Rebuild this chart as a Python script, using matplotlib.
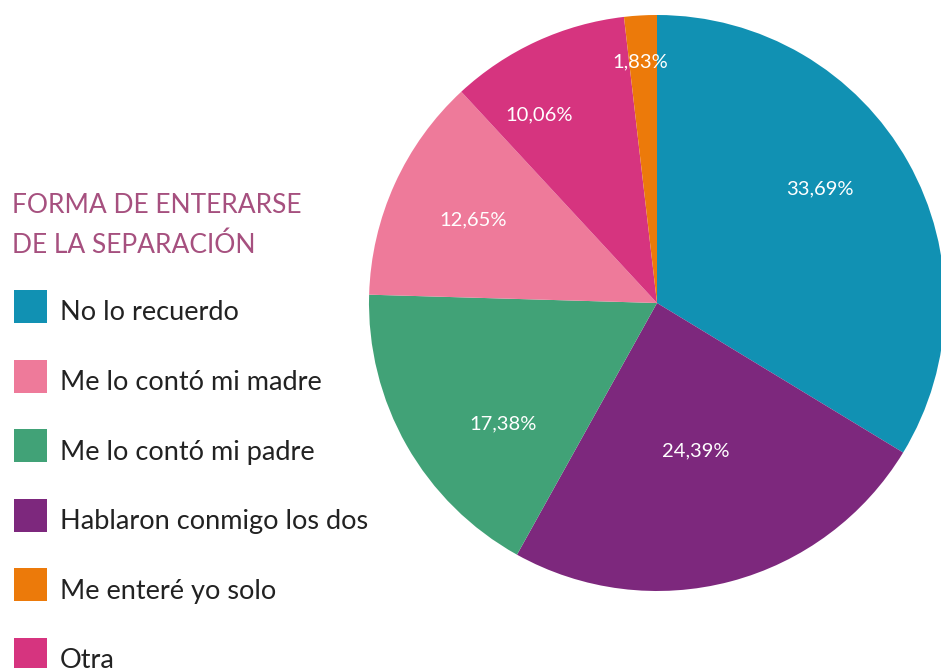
import matplotlib
matplotlib.use("Agg")
import matplotlib.pyplot as plt
from matplotlib.patches import Rectangle
import numpy as np

# ---- data ----
slice_labels = ["No lo recuerdo", "Hablaron conmigo los dos", "Me lo contó mi padre",
                "Me lo contó mi madre", "Otra", "Me enteré yo solo"]
slice_values = [33.69, 24.39, 17.38, 12.65, 10.06, 1.83]
slice_colors = ["#1191B3", "#7D287D", "#41A277", "#EE7A9A", "#D6347F", "#EC7A0A"]

legend_order = ["No lo recuerdo", "Me lo contó mi madre", "Me lo contó mi padre",
                "Hablaron conmigo los dos", "Me enteré yo solo", "Otra"]
title_lines = ["FORMA DE ENTERARSE", "DE LA SEPARACIÓN"]

# label placement tweaks (radius fraction, angle offset in degrees)
label_r = [0.69, 0.53, 0.68, 0.70, 0.77, 0.84]
label_da = [5.6, 0.0, 8.4, 0.0, 7.3, 0.7]

FONT = ["Lato", "DejaVu Sans"]
W, H = 941, 668
fig = plt.figure(figsize=(W / 100, H / 100), dpi=100)
fig.patch.set_facecolor("white")

cx, cy, R = 657, 303, 288
ax = fig.add_axes([(cx - R) / W, (H - cy - R) / H, 2 * R / W, 2 * R / H])
wedges, _ = ax.pie(slice_values, colors=slice_colors, startangle=90, counterclock=False,
                   radius=1.0, wedgeprops=dict(linewidth=0))
ax.set_xlim(-1, 1)
ax.set_ylim(-1, 1)
ax.set_aspect("equal")
ax.axis("off")

for w, v, rf, da in zip(wedges, slice_values, label_r, label_da):
    mid = np.deg2rad((w.theta1 + w.theta2) / 2 + da)
    ax.text(rf * np.cos(mid), rf * np.sin(mid), f"{v:.2f}%".replace(".", ","),
            ha="center", va="center", color="white", fontsize=14.5,
            fontweight="normal", family=FONT)

# title
title_color = "#A6507F"
for i, line in enumerate(title_lines):
    fig.text(12 / W, 1 - (213 + 40 * i) / H, line, color=title_color, fontsize=19,
             fontweight="normal", family=FONT, ha="left", va="baseline")

# legend
color_of = dict(zip(slice_labels, slice_colors))
y0, step, sq = 306.5, 69.6, 33
for i, name in enumerate(legend_order):
    yc = y0 + i * step
    fig.patches.append(Rectangle((14 / W, 1 - (yc + sq / 2) / H), sq / W, sq / H,
                                 transform=fig.transFigure, facecolor=color_of[name],
                                 edgecolor="none"))
    fig.text(60 / W, 1 - (yc + 14) / H, name, color="#222222", fontsize=19.5,
             family=FONT, ha="left", va="baseline")

fig.savefig("out.png", dpi=100)
